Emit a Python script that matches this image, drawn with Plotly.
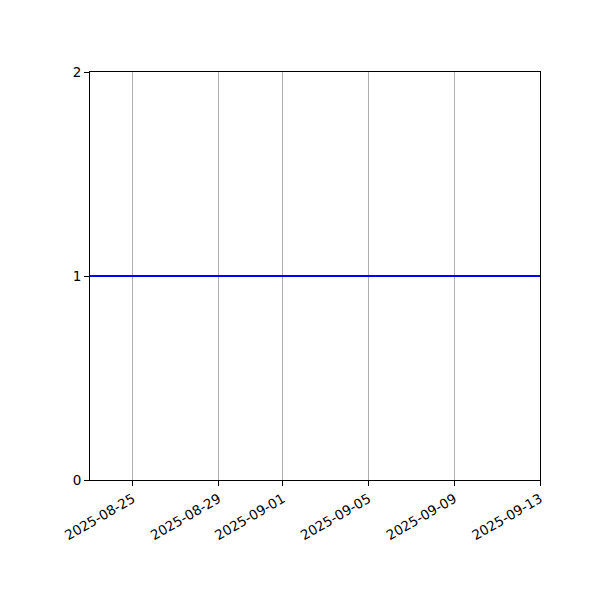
import plotly.graph_objects as go

# data
dates = ["2025-08-23", "2025-08-25", "2025-08-29", "2025-09-01",
         "2025-09-05", "2025-09-09", "2025-09-13"]
values = [1, 1, 1, 1, 1, 1, 1]

tick_dates = ["2025-08-25", "2025-08-29", "2025-09-01",
              "2025-09-05", "2025-09-09", "2025-09-13"]
y_ticks = [0, 1, 2]

fig = go.Figure()
fig.add_trace(go.Scatter(x=dates, y=values, mode="lines",
                         line=dict(color="#0000ff", width=2),
                         showlegend=False))

# page puts the figure 8px in, so margins are shifted to match
fig.update_layout(
    width=600, height=600,
    margin=dict(l=82, r=68, t=64, b=128),
    paper_bgcolor="white", plot_bgcolor="white",
    font=dict(family="DejaVu Sans", size=13.5, color="black"),
)
fig.update_xaxes(
    type="date", range=["2025-08-23", "2025-09-13"],
    tickvals=tick_dates, ticktext=tick_dates, tickangle=-30,
    showgrid=True, gridcolor="#b0b0b0", gridwidth=1,
    showline=True, linecolor="black", linewidth=1, mirror=True,
    ticks="outside", ticklen=5, tickcolor="black", zeroline=False,
)
fig.update_yaxes(
    range=[0, 2], tickvals=y_ticks, showgrid=False,
    showline=True, linecolor="black", linewidth=1, mirror=True,
    ticks="outside", ticklen=5, tickcolor="black", zeroline=False,
)

fig.write_html("out.html")
